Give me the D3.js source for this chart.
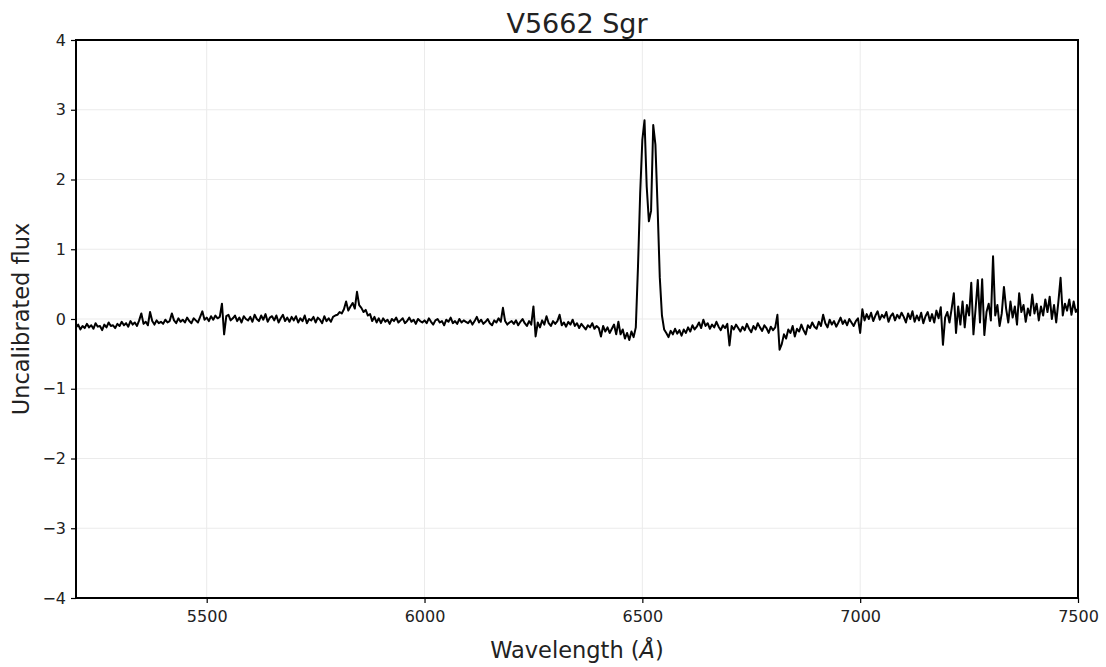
<!DOCTYPE html>
<html>
<head>
<meta charset="utf-8">
<script src="https://cdn.jsdelivr.net/npm/d3@7"></script>
<style>
  body { margin: 0; background: #fff; }
  svg text { font-family: "DejaVu Sans", sans-serif; fill: #222; }
</style>
</head>
<body>
<svg id="chart" width="1106" height="667"></svg>
<script>
var gridStart = 5200;
var gridStep = 5;

var flux5200 = [-0.12,-0.08,-0.15,-0.10,-0.13,-0.07,-0.12,-0.09,-0.14,-0.06,-0.11,-0.10,-0.16,-0.08,-0.12,-0.05,-0.10,-0.09,-0.13,-0.07];
var flux5300 = [-0.10,-0.04,-0.09,-0.06,-0.11,-0.03,-0.08,-0.05,-0.10,-0.02,0.08,-0.07,-0.04,-0.09,0.10,-0.03,-0.08,-0.02,-0.06,-0.04];
var flux5400 = [-0.07,-0.01,-0.05,-0.03,0.08,-0.02,-0.06,0.01,-0.04,-0.01,-0.05,0.02,-0.03,-0.06,0.01,-0.02,-0.05,0.03,0.11,-0.01];
var flux5500 = [0.02,-0.03,0.04,-0.01,0.05,0.01,0.03,0.22,-0.22,0.04,0.06,-0.02,0.01,0.05,-0.03,0.02,-0.05,0.04,0.00,-0.02];
var flux5600 = [0.03,-0.04,0.06,0.00,-0.03,0.05,-0.01,0.07,-0.04,0.02,0.04,-0.02,0.05,-0.05,0.01,0.06,-0.03,0.02,-0.04,0.03];
var flux5700 = [-0.02,0.04,-0.05,0.01,-0.03,0.05,-0.06,0.00,-0.02,0.03,-0.05,0.02,-0.01,-0.06,0.04,-0.03,0.01,-0.04,0.03,0.05];
var flux5800 = [0.06,0.10,0.08,0.14,0.25,0.12,0.18,0.23,0.15,0.39,0.20,0.16,0.10,0.13,0.05,0.07,-0.03,0.03,-0.05,0.01];
var flux5900 = [-0.06,0.01,-0.04,-0.01,-0.07,0.00,-0.03,0.02,-0.05,-0.02,0.01,-0.06,-0.03,0.02,-0.04,-0.01,-0.07,0.00,-0.03,-0.05];
var flux6000 = [-0.02,-0.06,0.01,-0.04,-0.08,-0.02,0.00,-0.05,-0.03,-0.09,-0.01,-0.04,0.02,-0.06,-0.03,-0.07,0.00,-0.05,-0.02,-0.04];
var flux6100 = [-0.06,-0.02,-0.08,-0.03,0.03,-0.05,-0.01,-0.07,-0.04,0.00,-0.06,-0.09,-0.02,-0.05,0.01,-0.04,0.16,-0.03,-0.08,-0.05];
var flux6200 = [-0.03,-0.07,-0.02,-0.09,-0.04,0.00,-0.06,-0.10,-0.03,-0.08,0.18,-0.25,-0.05,-0.12,-0.02,-0.08,0.04,-0.06,-0.10,-0.03];
var flux6300 = [-0.07,-0.03,0.06,-0.09,-0.05,-0.11,-0.04,-0.08,-0.01,-0.10,-0.06,-0.13,-0.07,-0.11,-0.15,-0.09,-0.12,-0.06,-0.14,-0.10];
var flux6400 = [-0.13,-0.25,-0.10,-0.18,-0.12,-0.20,-0.14,-0.08,-0.22,-0.04,-0.22,-0.15,-0.28,-0.20,-0.30,-0.18,-0.26,-0.12,0.75,1.80];
var flux6500 = [2.57,2.85,1.90,1.40,1.55,2.78,2.50,1.60,0.60,0.05,-0.15,-0.20,-0.26,-0.17,-0.22,-0.14,-0.21,-0.16,-0.24,-0.15];
var flux6600 = [-0.20,-0.12,-0.18,-0.09,-0.15,-0.11,-0.05,-0.13,-0.01,-0.10,-0.06,-0.14,-0.08,-0.12,-0.04,-0.11,-0.16,-0.09,-0.13,-0.07];
var flux6700 = [-0.38,-0.10,-0.15,-0.08,-0.13,-0.18,-0.11,-0.16,-0.07,-0.14,-0.19,-0.10,-0.15,-0.06,-0.12,-0.17,-0.09,-0.13,-0.20,-0.11];
var flux6800 = [-0.16,-0.12,0.06,-0.44,-0.36,-0.22,-0.28,-0.15,-0.20,-0.10,-0.25,-0.14,-0.18,-0.08,-0.16,-0.22,-0.09,-0.13,-0.05,-0.11];
var flux6900 = [-0.14,-0.04,-0.10,0.06,-0.06,-0.12,-0.01,-0.08,-0.03,-0.11,-0.05,0.02,-0.07,-0.02,-0.09,0.00,-0.05,-0.10,-0.03,0.01];
var flux7000 = [-0.20,0.14,-0.02,0.07,0.00,0.09,-0.03,0.05,0.11,-0.01,0.06,0.02,0.10,-0.04,0.04,0.08,-0.02,0.06,0.01,0.09];
var flux7100 = [0.03,-0.05,0.08,0.00,0.11,-0.04,0.05,-0.02,0.09,-0.06,0.04,0.10,-0.03,0.07,-0.05,0.12,0.01,0.17,-0.37,0.02];
var flux7200 = [0.10,-0.05,0.15,0.37,-0.20,0.18,-0.08,0.25,-0.12,0.20,0.05,0.52,-0.22,0.15,0.56,-0.05,0.57,-0.23,0.10,0.22];
var flux7300 = [-0.02,0.90,0.05,0.20,-0.10,0.08,0.46,0.15,-0.05,0.25,0.02,0.18,-0.08,0.37,0.10,0.20,-0.04,0.15,0.05,0.35];
var flux7400 = [0.08,0.22,-0.02,0.18,0.05,0.28,0.10,0.32,0.00,0.20,-0.05,0.25,0.59,0.05,0.22,0.12,0.28,0.06,0.25,0.10,0.15];

var xTicks = [5500, 6000, 6500, 7000, 7500];
var yTicks = [-4, -3, -2, -1, 0, 1, 2, 3, 4];

var titleText = "V5662 Sgr";
var yLabel = "Uncalibrated flux";

var flux = [].concat(flux5200, flux5300, flux5400, flux5500, flux5600, flux5700,
  flux5800, flux5900, flux6000, flux6100, flux6200, flux6300, flux6400, flux6500,
  flux6600, flux6700, flux6800, flux6900, flux7000, flux7100, flux7200, flux7300, flux7400);

var spectrum = flux.map(function(f, i) {
  return { wl: gridStart + i * gridStep, f: f };
});

var margin = { top: 40, right: 28, bottom: 69, left: 76 },
  width = 1106 - margin.left - margin.right,
  height = 667 - margin.top - margin.bottom;

var svg = d3.select("#chart");
var g = svg.append("g")
  .attr("transform", "translate(" + margin.left + "," + margin.top + ")");

var xScale = d3.scaleLinear().domain([5200, 7500]).range([0, width]);
var yScale = d3.scaleLinear().domain([-4, 4]).range([height, 0]);

// grid
g.append("g").selectAll("line").data(xTicks).enter().append("line")
  .attr("x1", function(d) { return xScale(d); })
  .attr("x2", function(d) { return xScale(d); })
  .attr("y1", 0).attr("y2", height)
  .attr("stroke", "#ebebeb").attr("stroke-width", 1);

g.append("g").selectAll("line").data(yTicks).enter().append("line")
  .attr("y1", function(d) { return yScale(d); })
  .attr("y2", function(d) { return yScale(d); })
  .attr("x1", 0).attr("x2", width)
  .attr("stroke", "#ebebeb").attr("stroke-width", 1);

// axes
var xAxis = d3.axisBottom(xScale).tickValues(xTicks).tickSize(5).tickPadding(8).tickFormat(d3.format("d"));
var yAxis = d3.axisLeft(yScale).tickValues(yTicks).tickSize(5).tickPadding(5);

var gx = g.append("g").attr("transform", "translate(0," + height + ")").call(xAxis);
var gy = g.append("g").call(yAxis);

[gx, gy].forEach(function(a) {
  a.select(".domain").remove();
  a.selectAll(".tick line").attr("stroke", "#000").attr("stroke-width", 1.2);
  a.selectAll(".tick text").style("font-size", "16px").style("font-family", "DejaVu Sans").attr("fill", "#222");
});

// spectrum line
var line = d3.line()
  .x(function(d) { return xScale(d.wl); })
  .y(function(d) { return yScale(d.f); });

g.append("path")
  .datum(spectrum)
  .attr("d", line)
  .attr("fill", "none")
  .attr("stroke", "#000")
  .attr("stroke-width", 2)
  .attr("stroke-linejoin", "round");

// frame
g.append("rect")
  .attr("x", 0).attr("y", 0)
  .attr("width", width).attr("height", height)
  .attr("fill", "none").attr("stroke", "#000").attr("stroke-width", 2);

// labels
svg.append("text")
  .attr("x", margin.left + width / 2).attr("y", 33)
  .attr("text-anchor", "middle")
  .style("font-size", "27px")
  .text(titleText);

var xl = svg.append("text")
  .attr("x", margin.left + width / 2).attr("y", 658)
  .attr("text-anchor", "middle")
  .style("font-size", "22.5px");
xl.append("tspan").text("Wavelength (");
xl.append("tspan").style("font-style", "italic").text("Å");
xl.append("tspan").text(")");

svg.append("text")
  .attr("transform", "translate(29," + (margin.top + height / 2) + ") rotate(-90)")
  .attr("text-anchor", "middle")
  .style("font-size", "22.5px")
  .text(yLabel);
</script>
</body>
</html>
